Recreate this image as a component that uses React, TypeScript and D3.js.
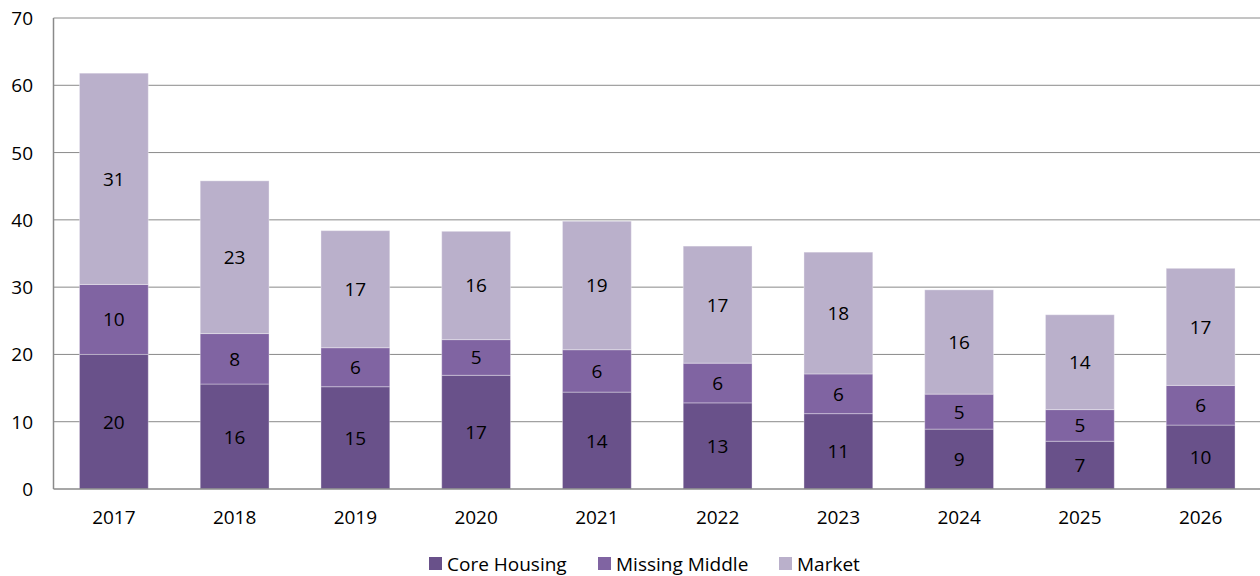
import { scaleBand, scaleLinear, stack } from "d3";

const years = ["2017", "2018", "2019", "2020", "2021", "2022", "2023", "2024", "2025", "2026"];
const coreHousing = [20.0, 15.6, 15.2, 16.9, 14.4, 12.8, 11.2, 8.9, 7.1, 9.5];
const missingMiddle = [10.4, 7.5, 5.8, 5.3, 6.3, 5.9, 5.9, 5.2, 4.7, 5.9];
const market = [31.4, 22.7, 17.4, 16.1, 19.1, 17.4, 18.1, 15.5, 14.1, 17.4];
const seriesNames = ["Core Housing", "Missing Middle", "Market"];
const seriesColors = ["#69518A", "#8064A2", "#BAB0CB"];
const yTicks = [0, 10, 20, 30, 40, 50, 60, 70];

const font = "'Open Sans', 'Noto Sans', sans-serif";

export default function App() {
  const width = 1260;
  const height = 576;
  const margin = { top: 18, right: 0, bottom: 87, left: 53.5 };
  const plotBottom = height - margin.bottom;

  const rows = years.map((y, i) => ({
    year: y,
    "Core Housing": coreHousing[i],
    "Missing Middle": missingMiddle[i],
    Market: market[i],
  }));
  const series = stack<any>().keys(seriesNames)(rows);

  const x = scaleBand<string>()
    .domain(years)
    .range([margin.left, width - margin.right + 1])
    .paddingInner(0.43)
    .paddingOuter(0.215);
  const y = scaleLinear().domain([0, 70]).range([plotBottom, margin.top]);

  const legendItems = [
    { x: 429, label: seriesNames[0], color: seriesColors[0] },
    { x: 598, label: seriesNames[1], color: seriesColors[1] },
    { x: 779, label: seriesNames[2], color: seriesColors[2] },
  ];

  return (
    <svg
      width={width}
      height={height}
      style={{ position: "absolute", left: 0, top: 0, background: "#fff" }}
      fontFamily={font}
    >
      {/* gridlines */}
      {yTicks.map((t) => (
        <g key={t}>
          {t > 0 && (
            <line
              x1={margin.left}
              x2={width}
              y1={y(t)}
              y2={y(t)}
              stroke="#8a8a8a"
              strokeWidth={1}
            />
          )}
          <text
            x={33}
            y={y(t)}
            textAnchor="end"
            dominantBaseline="central"
            fontSize={19}
            fill="#000"
          >
            {t}
          </text>
        </g>
      ))}

      {/* bars */}
      {series.map((s, si) => (
        <g key={s.key}>
          {s.map((d, i) => {
            const y0 = y(d[0]);
            const y1 = y(d[1]);
            return (
              <g key={i}>
                <rect
                  x={x(years[i])}
                  y={y1}
                  width={x.bandwidth()}
                  height={y0 - y1}
                  fill={seriesColors[si]}
                  stroke="#ffffff"
                  strokeOpacity={0.35}
                  strokeWidth={1}
                />
                <text
                  x={(x(years[i]) || 0) + x.bandwidth() / 2}
                  y={(y0 + y1) / 2}
                  textAnchor="middle"
                  dominantBaseline="central"
                  fontSize={19}
                  fill="#000"
                >
                  {Math.round(d[1] - d[0])}
                </text>
              </g>
            );
          })}
        </g>
      ))}

      {/* axes */}
      <line x1={margin.left} x2={margin.left} y1={margin.top} y2={plotBottom} stroke="#8a8a8a" strokeWidth={1.5} />
      <line x1={margin.left} x2={width} y1={plotBottom} y2={plotBottom} stroke="#8a8a8a" strokeWidth={1.5} />

      {years.map((yr) => (
        <text
          key={yr}
          x={(x(yr) || 0) + x.bandwidth() / 2}
          y={517}
          textAnchor="middle"
          dominantBaseline="central"
          fontSize={19}
          fill="#000"
        >
          {yr}
        </text>
      ))}

      {/* legend */}
      {legendItems.map((l) => (
        <g key={l.label}>
          <rect x={l.x} y={557} width={13} height={13} fill={l.color} />
          <text x={l.x + 18} y={563.5} dominantBaseline="central" fontSize={19} fill="#000">
            {l.label}
          </text>
        </g>
      ))}
    </svg>
  );
}
